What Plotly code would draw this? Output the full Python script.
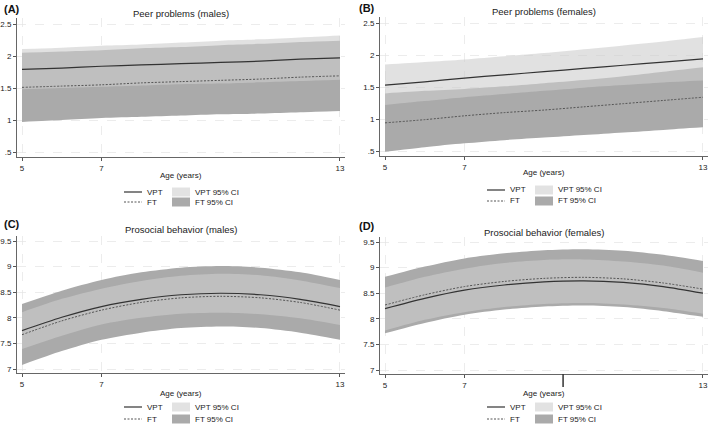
import plotly.graph_objects as go

W, H = 709, 425
FONT = "Liberation Sans, Arial, sans-serif"

ages = [5, 6, 7, 8, 9, 10, 11, 12, 13]

# (A) Peer problems (males)
a_vpt    = [1.79, 1.81, 1.84, 1.86, 1.88, 1.90, 1.92, 1.95, 1.97]
a_ft     = [1.51, 1.53, 1.55, 1.58, 1.60, 1.62, 1.64, 1.67, 1.69]
a_vpt_up = [2.11, 2.13, 2.16, 2.18, 2.21, 2.24, 2.26, 2.29, 2.32]
a_vpt_lo = [1.48, 1.50, 1.52, 1.54, 1.56, 1.57, 1.59, 1.61, 1.63]
a_ft_up  = [2.05, 2.07, 2.09, 2.12, 2.14, 2.17, 2.19, 2.22, 2.24]
a_ft_lo  = [0.97, 1.00, 1.03, 1.05, 1.07, 1.09, 1.10, 1.12, 1.14]

# (B) Peer problems (females)
b_vpt    = [1.53, 1.58, 1.64, 1.69, 1.74, 1.79, 1.84, 1.89, 1.94]
b_ft     = [0.94, 0.99, 1.05, 1.10, 1.14, 1.19, 1.24, 1.29, 1.34]
b_vpt_up = [1.85, 1.89, 1.93, 1.98, 2.03, 2.09, 2.15, 2.21, 2.28]
b_vpt_lo = [1.22, 1.28, 1.34, 1.39, 1.44, 1.49, 1.53, 1.57, 1.60]
b_ft_up  = [1.40, 1.44, 1.47, 1.51, 1.56, 1.61, 1.67, 1.74, 1.81]
b_ft_lo  = [0.49, 0.56, 0.62, 0.67, 0.71, 0.75, 0.79, 0.83, 0.87]

# (C) Prosocial behavior (males)
c_vpt    = [7.75, 8.01, 8.22, 8.36, 8.45, 8.48, 8.45, 8.36, 8.22]
c_ft     = [7.67, 7.94, 8.15, 8.30, 8.39, 8.42, 8.39, 8.30, 8.15]
c_vpt_up = [8.11, 8.37, 8.57, 8.72, 8.82, 8.86, 8.83, 8.73, 8.58]
c_vpt_lo = [7.39, 7.65, 7.87, 8.00, 8.08, 8.10, 8.07, 7.99, 7.86]
c_ft_up  = [8.27, 8.53, 8.74, 8.89, 8.98, 9.01, 8.98, 8.89, 8.74]
c_ft_lo  = [7.08, 7.35, 7.57, 7.71, 7.80, 7.83, 7.80, 7.71, 7.57]

# (D) Prosocial behavior (females)
d_vpt    = [8.20, 8.40, 8.56, 8.66, 8.72, 8.74, 8.71, 8.63, 8.50]
d_ft     = [8.27, 8.47, 8.63, 8.73, 8.79, 8.81, 8.78, 8.70, 8.58]
d_vpt_up = [8.61, 8.82, 8.98, 9.09, 9.15, 9.16, 9.12, 9.04, 8.90]
d_vpt_lo = [7.77, 7.98, 8.13, 8.23, 8.29, 8.31, 8.28, 8.21, 8.10]
d_ft_up  = [8.82, 9.02, 9.18, 9.28, 9.34, 9.36, 9.33, 9.25, 9.13]
d_ft_lo  = [7.72, 7.92, 8.08, 8.18, 8.24, 8.26, 8.23, 8.15, 8.04]

titles = ["Peer problems (males)", "Peer problems (females)",
          "Prosocial behavior (males)", "Prosocial behavior (females)"]
letters = ["(A)", "(B)", "(C)", "(D)"]
x_ticks = [5, 7, 13]
peer_ticks = [0.5, 1, 1.5, 2, 2.5]
peer_text = [".5", "1", "1.5", "2", "2.5"]
pro_ticks = [7, 7.5, 8, 8.5, 9, 9.5]
pro_text = ["7", "7.5", "8", "8.5", "9", "9.5"]
legend_labels = ["VPT", "FT", "VPT 95% CI", "FT 95% CI"]

FT_FILL = "#aaaaaa"
VPT_FILL = "rgba(205,205,205,0.6)"

panels = [
    (a_vpt, a_ft, a_vpt_up, a_vpt_lo, a_ft_up, a_ft_lo),
    (b_vpt, b_ft, b_vpt_up, b_vpt_lo, b_ft_up, b_ft_lo),
    (c_vpt, c_ft, c_vpt_up, c_vpt_lo, c_ft_up, c_ft_lo),
    (d_vpt, d_ft, d_vpt_up, d_vpt_lo, d_ft_up, d_ft_lo),
]

# layout geometry in pixels
xdom_px = [(17, 345), (380, 708), (17, 345), (380, 708)]
ydom_px = [(18, 157), (17, 156), (236, 373), (237, 374)]
yranges = [(0.422, 2.594), (0.422, 2.594), (6.922, 9.598), (6.922, 9.598)]
letter_pos = [(2, 9), (357, 8), (2, 224), (357, 226)]
title_y = [13, 12, 230, 232]
axtitle_y = [175, 173, 393, 393]
legend_rows = [(192, 202), (190, 201), (407, 419), (407, 419)]

fig = go.Figure()

def px(xp):
    return xp / W

def py(yp):
    return 1 - yp / H

layout = dict(width=W, height=H, margin=dict(l=0, r=0, t=0, b=0),
              paper_bgcolor="white", plot_bgcolor="white", showlegend=False,
              font=dict(family=FONT, color="#222"))
annotations = []
shapes = []

for i, (vpt, ft, vup, vlo, fup, flo) in enumerate(panels):
    n = "" if i == 0 else str(i + 1)
    xa, ya = "x" + n, "y" + n
    common = dict(x=ages, xaxis=xa, yaxis=ya, mode="lines", hoverinfo="skip")
    sp = dict(shape="spline", smoothing=0.8)
    fig.add_trace(go.Scatter(y=flo, line=dict(width=0, **sp), **common))
    fig.add_trace(go.Scatter(y=fup, line=dict(width=0, **sp), fill="tonexty",
                             fillcolor=FT_FILL, name="FT 95% CI", **common))
    fig.add_trace(go.Scatter(y=vlo, line=dict(width=0, **sp), **common))
    fig.add_trace(go.Scatter(y=vup, line=dict(width=0, **sp), fill="tonexty",
                             fillcolor=VPT_FILL, name="VPT 95% CI", **common))
    fig.add_trace(go.Scatter(y=ft, line=dict(color="#555", width=1, dash="2px,1.5px", **sp),
                             name="FT", **common))
    fig.add_trace(go.Scatter(y=vpt, line=dict(color="#333", width=1.2, **sp),
                             name="VPT", **common))

    x0, x1 = xdom_px[i]
    y0, y1 = ydom_px[i]
    peer = i < 2
    layout["xaxis" + n] = dict(
        domain=[px(x0), px(x1)], anchor=ya, range=[4.874, 13.126],
        tickvals=x_ticks, ticktext=[str(t) for t in x_ticks],
        ticks="outside", ticklen=3, tickcolor="#555", tickwidth=1,
        showline=True, linecolor="#666", linewidth=1,
        showgrid=True, gridcolor="#e4e4e4", griddash="dash", gridwidth=0.7,
        zeroline=False, tickfont=dict(size=8, color="#222"), fixedrange=True)
    layout["yaxis" + n] = dict(
        domain=[py(y1), py(y0)], anchor=xa, range=list(yranges[i]),
        tickvals=peer_ticks if peer else pro_ticks,
        ticktext=peer_text if peer else pro_text,
        ticks="outside", ticklen=3, tickcolor="#555", tickwidth=1,
        showline=True, linecolor="#666", linewidth=1,
        showgrid=True, gridcolor="#e4e4e4", griddash="dash", gridwidth=0.7,
        zeroline=False, tickfont=dict(size=8, color="#222"), fixedrange=True)

    cx = (x0 + x1) / 2
    lx, ly = letter_pos[i]
    annotations.append(dict(text="<b>" + letters[i] + "</b>", x=px(lx), y=py(ly),
                            xref="paper", yref="paper", xanchor="left", yanchor="middle",
                            showarrow=False, font=dict(size=11, color="#111")))
    annotations.append(dict(text=titles[i], x=px(cx), y=py(title_y[i]),
                            xref="paper", yref="paper", xanchor="center", yanchor="middle",
                            showarrow=False, font=dict(size=9.5, color="#222")))
    annotations.append(dict(text="Age (years)", x=px(cx), y=py(axtitle_y[i]),
                            xref="paper", yref="paper", xanchor="center", yanchor="middle",
                            showarrow=False, font=dict(size=8, color="#222")))
    r1, r2 = legend_rows[i]
    shapes.append(dict(type="line", xref="paper", yref="paper",
                       x0=px(cx - 57), x1=px(cx - 39), y0=py(r1), y1=py(r1),
                       line=dict(color="#333", width=1.2)))
    shapes.append(dict(type="line", xref="paper", yref="paper",
                       x0=px(cx - 57), x1=px(cx - 39), y0=py(r2), y1=py(r2),
                       line=dict(color="#555", width=1, dash="2px,1.5px")))
    shapes.append(dict(type="rect", xref="paper", yref="paper",
                       x0=px(cx - 9), x1=px(cx + 9), y0=py(r1 - 4.5), y1=py(r1 + 4.5),
                       fillcolor="#e2e2e2", line=dict(width=0)))
    shapes.append(dict(type="rect", xref="paper", yref="paper",
                       x0=px(cx - 9), x1=px(cx + 9), y0=py(r2 - 4.5), y1=py(r2 + 4.5),
                       fillcolor=FT_FILL, line=dict(width=0)))
    for lbl, xx, yy in [(legend_labels[0], cx - 36, r1), (legend_labels[1], cx - 36, r2),
                        (legend_labels[2], cx + 12, r1), (legend_labels[3], cx + 12, r2)]:
        annotations.append(dict(text=lbl, x=px(xx), y=py(yy), xref="paper", yref="paper",
                                xanchor="left", yanchor="middle", showarrow=False,
                                font=dict(size=8, color="#222")))

# small vertical mark below the x axis of panel D (present in the original)
shapes.append(dict(type="line", xref="x4", yref="paper", x0=9.48, x1=9.48,
                   y0=py(374), y1=py(387), line=dict(color="#333", width=1.5)))

layout["annotations"] = annotations
layout["shapes"] = shapes
fig.update_layout(**layout)
fig.write_html("out.html", config={"displayModeBar": False, "staticPlot": True},
               post_script="document.body.style.margin='0';document.body.style.overflow='hidden';")
